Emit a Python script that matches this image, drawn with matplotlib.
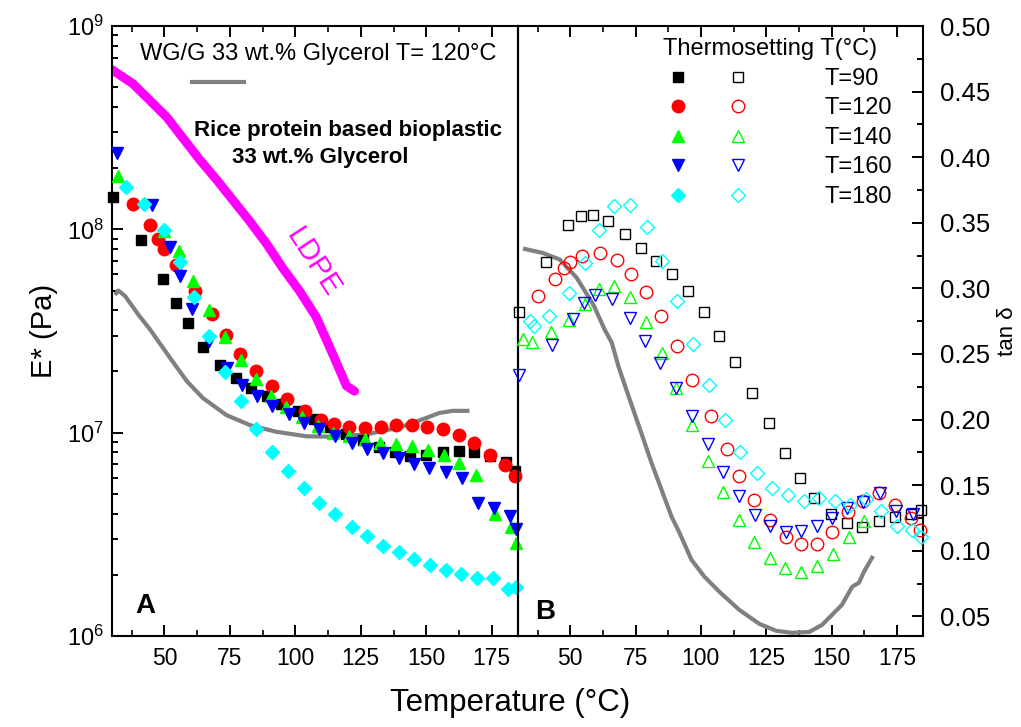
import matplotlib
matplotlib.use('Agg')
import matplotlib.pyplot as plt
from matplotlib import font_manager
from matplotlib.ticker import MultipleLocator, LogLocator, NullFormatter
from matplotlib.lines import Line2D
from matplotlib.legend_handler import HandlerTuple

plt.rcParams['font.family'] = ['Liberation Sans', 'DejaVu Sans']
plt.rcParams['mathtext.default'] = 'regular'
plt.rcParams['xtick.direction'] = 'in'
plt.rcParams['ytick.direction'] = 'in'

# narrow face for the x tick labels, if it is there
font_names = {f.name for f in font_manager.fontManager.ttflist}
if 'Liberation Sans Narrow' in font_names:
    tick_family, tick_size = 'Liberation Sans Narrow', 20
else:
    tick_family, tick_size = 'Liberation Sans', 16.5

# ---- panel A : E* (Pa) ----
ldpe_T = [30, 38, 44.5, 51, 57, 63.5, 70, 76, 82.5, 89, 95, 101.5, 108, 114.5, 119.5, 122.6]
ldpe_E = [6.1e8, 5.2e8, 4.3e8, 3.55e8, 2.82e8, 2.2e8, 1.75e8, 1.4e8, 1.1e8, 8.5e7, 6.5e7,
          5.0e7, 3.7e7, 2.4e7, 1.7e7, 1.6e7]

wgA_T = [31.6, 32.4, 35.0, 40.1, 44.5, 52.5, 58.6, 64.7, 73.7, 82.6, 92.7, 104.2, 114.3,
         127.0, 139.7, 149.9, 155.0, 160.0, 165.7]
wgA_E = [4.85e7, 5.0e7, 4.7e7, 3.8e7, 3.22e7, 2.30e7, 1.79e7, 1.48e7, 1.22e7, 1.09e7,
         1.01e7, 9.6e6, 9.55e6, 9.8e6, 1.06e7, 1.18e7, 1.25e7, 1.28e7, 1.28e7]

blackA_T = [30.5, 41.1, 49.6, 54.3, 59.1, 64.8, 71.1, 77.3, 83.0, 89.0, 94.7, 101.1, 107.2,
            113.2, 119.5, 125.9, 132.0, 138.0, 143.9, 150.0, 156.3, 162.3, 168.4, 174.4,
            180.5, 183.9]
blackA_E = [1.45e8, 8.9e7, 5.7e7, 4.35e7, 3.45e7, 2.65e7, 2.14e7, 1.86e7, 1.66e7, 1.51e7,
            1.39e7, 1.28e7, 1.17e7, 1.07e7, 9.8e6, 9.2e6, 8.5e6, 8.0e6, 7.7e6, 7.8e6,
            8.0e6, 8.1e6, 8.0e6, 7.7e6, 7.2e6, 6.5e6]

redA_T = [38.1, 44.5, 47.6, 49.9, 54.4, 61.6, 68.0, 73.7, 78.8, 85.1, 90.9, 96.8, 103.5,
          109.9, 114.7, 120.4, 126.7, 132.6, 138.5, 144.6, 150.2, 156.3, 162.3, 168.4,
          174.4, 180.2, 183.7]
redA_E = [1.34e8, 1.05e8, 9.0e7, 8.0e7, 6.65e7, 5.0e7, 3.82e7, 3.02e7, 2.45e7, 2.0e7,
          1.69e7, 1.47e7, 1.28e7, 1.16e7, 1.10e7, 1.07e7, 1.06e7, 1.07e7, 1.09e7, 1.09e7,
          1.07e7, 1.04e7, 9.7e6, 8.9e6, 7.8e6, 6.9e6, 6.1e6]

greenA_T = [32.2, 49.9, 55.5, 60.9, 66.9, 73.1, 79.1, 85.1, 90.7, 96.6, 102.5, 108.6, 114.4,
            120.5, 126.6, 132.5, 138.3, 144.6, 150.8, 156.7, 162.5, 168.8, 176.4, 182.4,
            184.4]
greenA_E = [1.83e8, 9.8e7, 7.8e7, 5.6e7, 4.0e7, 2.94e7, 2.28e7, 1.83e7, 1.52e7, 1.34e7,
            1.19e7, 1.08e7, 1.0e7, 9.6e6, 9.3e6, 8.9e6, 8.8e6, 8.6e6, 8.2e6, 7.8e6, 7.1e6,
            6.2e6, 4.0e6, 3.44e6, 2.88e6]

blueA_T = [31.8, 45.1, 52.1, 55.9, 60.6, 67.2, 73.8, 79.5, 85.4, 91.2, 97.5, 103.3, 109.2,
           115.3, 121.6, 127.4, 133.4, 139.4, 145.3, 151.2, 157.5, 163.6, 169.6, 175.9,
           182.1, 184.3]
blueA_E = [2.37e8, 1.32e8, 8.2e7, 5.9e7, 4.08e7, 2.81e7, 2.09e7, 1.71e7, 1.51e7, 1.35e7,
           1.23e7, 1.11e7, 1.04e7, 9.6e6, 8.9e6, 8.3e6, 7.9e6, 7.5e6, 7.05e6, 6.7e6,
           6.4e6, 5.96e6, 4.53e6, 4.25e6, 3.87e6, 3.34e6]

cyanA_T = [35.4, 42.1, 49.9, 56.1, 61.4, 67.1, 73.2, 79.3, 85.1, 91.1, 97.2, 103.3, 109.2,
           115.3, 121.5, 127.4, 133.4, 139.4, 145.4, 151.3, 157.4, 163.2, 169.3, 175.3,
           181.1, 184.3]
cyanA_E = [1.61e8, 1.34e8, 9.9e7, 6.9e7, 4.66e7, 3.0e7, 1.99e7, 1.43e7, 1.04e7, 8.07e6,
           6.48e6, 5.37e6, 4.53e6, 3.97e6, 3.42e6, 3.11e6, 2.77e6, 2.58e6, 2.38e6, 2.23e6,
           2.11e6, 2.02e6, 1.92e6, 1.92e6, 1.71e6, 1.75e6]

# ---- panel B : tan delta ----
wgB_T = [32.7, 39.5, 46.0, 52.5, 59.0, 63.2, 65.9, 68.5, 72.4, 77.7, 81.1, 88.8, 91.8, 96.4,
         101.4, 107.1, 114.7, 122.4, 128.9, 135.0, 141.5, 146.4, 150.2, 154.0, 157.9, 160.5,
         162.4, 165.5]
wgB_tan = [0.330, 0.327, 0.322, 0.308, 0.287, 0.2685, 0.2586, 0.2403, 0.2174, 0.1869, 0.167,
           0.1259, 0.1137, 0.0931, 0.0801, 0.0687, 0.0549, 0.0442, 0.0389, 0.0374, 0.0381,
           0.0435, 0.0511, 0.0588, 0.0725, 0.0756, 0.0839, 0.0946]

blackB_T = [30.5, 40.7, 49.3, 54.0, 58.7, 64.5, 70.9, 76.9, 82.9, 89.0, 95.1, 101.2, 107.1,
            113.1, 119.4, 125.9, 132.3, 138.0, 143.4, 149.7, 156.1, 161.8, 168.2, 174.3,
            180.6, 184.1]
blackB_tan = [0.282, 0.320, 0.348, 0.3555, 0.3557, 0.351, 0.3415, 0.331, 0.321, 0.311,
              0.298, 0.282, 0.264, 0.2436, 0.220, 0.197, 0.1744, 0.1554, 0.140, 0.128,
              0.121, 0.1177, 0.1223, 0.126, 0.128, 0.131]

redB_T = [37.8, 44.2, 47.5, 49.9, 54.5, 61.4, 68.0, 73.4, 79.0, 84.9, 90.8, 96.7, 103.7,
          109.9, 114.7, 120.5, 126.5, 132.6, 138.5, 144.6, 150.1, 156.2, 162.0, 168.2,
          174.3, 180.4, 183.9]
redB_tan = [0.294, 0.307, 0.3156, 0.320, 0.3244, 0.327, 0.322, 0.311, 0.297, 0.2786, 0.2558,
            0.2304, 0.2027, 0.1776, 0.1566, 0.1383, 0.1236, 0.1106, 0.105, 0.1055, 0.1146,
            0.1293, 0.1381, 0.1439, 0.135, 0.1251, 0.1159]

greenB_T = [32.1, 35.3, 42.7, 49.4, 55.5, 61.0, 66.8, 72.9, 78.9, 85.0, 90.6, 96.6, 102.6,
            108.4, 114.5, 120.5, 126.6, 132.3, 138.3, 144.5, 150.6, 156.7, 162.6]
greenB_tan = [0.2615, 0.2592, 0.2664, 0.2761, 0.2882, 0.2995, 0.3021, 0.2933, 0.2744,
              0.2504, 0.224, 0.196, 0.1686, 0.1444, 0.1236, 0.107, 0.0948, 0.0872, 0.0841,
              0.0885, 0.0974, 0.1108, 0.1226]

blueB_T = [30.4, 42.9, 51.2, 55.1, 59.5, 66.1, 72.8, 78.7, 84.4, 90.3, 96.6, 102.6, 108.4,
           114.6, 120.7, 126.5, 132.4, 138.5, 144.5, 150.3, 156.1, 162.1, 168.4, 174.8, 181.1]
blueB_tan = [0.2342, 0.2567, 0.2764, 0.2886, 0.295, 0.2919, 0.2774, 0.2596, 0.2431, 0.224,
             0.2029, 0.1815, 0.1603, 0.1416, 0.1274, 0.1185, 0.1139, 0.1147, 0.1185, 0.1246,
             0.1325, 0.1375, 0.1439, 0.1299, 0.1281]

cyanB_T = [34.7, 36.0, 41.9, 49.6, 55.8, 61.1, 66.9, 73.0, 79.2, 85.0, 91.0, 97.1, 103.0,
           109.3, 115.1, 121.3, 127.4, 133.4, 139.3, 145.3, 151.3, 157.1, 163.1, 169.0,
           175.2, 180.9, 184.1]
cyanB_tan = [0.2752, 0.271, 0.2792, 0.2965, 0.3194, 0.3445, 0.3628, 0.3636, 0.3468, 0.3209,
             0.2904, 0.2577, 0.2265, 0.1998, 0.1752, 0.1592, 0.1477, 0.1426, 0.1381, 0.1401,
             0.1381, 0.135, 0.1394, 0.1299, 0.119, 0.1159, 0.1104]

series_labels = ['T=90', 'T=120', 'T=140', 'T=160', 'T=180']
colors = ['black', 'red', '#00FF00', 'blue', 'cyan']
markers = ['s', 'o', '^', 'v', 'D']
msizes = [7.5, 9, 9, 9, 7.5]

dataA = [(blackA_T, blackA_E), (redA_T, redA_E), (greenA_T, greenA_E),
         (blueA_T, blueA_E), (cyanA_T, cyanA_E)]
dataB = [(blackB_T, blackB_tan), (redB_T, redB_tan), (greenB_T, greenB_tan),
         (blueB_T, blueB_tan), (cyanB_T, cyanB_tan)]

fig = plt.figure(figsize=(10.21, 7.27), dpi=100)
axA = fig.add_axes([0.1097, 0.1252, 0.3976, 0.839])
axB = fig.add_axes([0.5073, 0.1252, 0.3967, 0.839], facecolor='none')

# panel A
axA.plot(ldpe_T, ldpe_E, color='magenta', lw=6.5, solid_capstyle='round',
         solid_joinstyle='round', zorder=2)
wg_line, = axA.plot(wgA_T, wgA_E, color='gray', lw=3, solid_joinstyle='round', zorder=2)
filled = []
for (t, e), c, m, s in zip(dataA, colors, markers, msizes):
    h, = axA.plot(t, e, ls='none', marker=m, ms=s, mfc=c, mec=c, clip_on=False, zorder=3)
    filled.append(h)

axA.set_yscale('log')
axA.set_ylim(1e6, 1e9)
axA.set_xlim(30, 185)
axA.set_ylabel('E* (Pa)', fontsize=21, labelpad=6)

# panel B
axB.plot(wgB_T, wgB_tan, color='gray', lw=3, solid_joinstyle='round', zorder=2)
opened = []
for (t, d), c, m, s in zip(dataB, colors, markers, msizes):
    h, = axB.plot(t, d, ls='none', marker=m, ms=s, mfc='none', mec=c, mew=1.0,
                  clip_on=False, zorder=3)
    opened.append(h)
axB.set_xlim(30, 185)
axB.set_ylim(0.035, 0.50)
axB.yaxis.set_major_locator(MultipleLocator(0.05))
axB.yaxis.set_minor_locator(MultipleLocator(0.025))
axB.yaxis.set_major_formatter(plt.FormatStrFormatter('%.2f'))
axB.yaxis.set_label_position('right')
axB.set_ylabel('tan δ', fontsize=16, labelpad=5, family=[tick_family, 'DejaVu Sans'])

for ax in (axA, axB):
    ax.xaxis.set_major_locator(MultipleLocator(25))
    ax.xaxis.set_minor_locator(MultipleLocator(12.5))
    for sp in ax.spines.values():
        sp.set_linewidth(1.5)
    ax.tick_params(axis='x', which='both', top=True, bottom=True, width=1.4,
                   labelsize=tick_size, labelfontfamily=tick_family, pad=8)
    ax.tick_params(which='major', length=8)
    ax.tick_params(which='minor', length=4.5, width=1.2)

axA.yaxis.set_major_locator(LogLocator(base=10, numticks=10))
axA.yaxis.set_minor_locator(LogLocator(base=10, subs=range(2, 10), numticks=10))
axA.yaxis.set_minor_formatter(NullFormatter())
axA.tick_params(axis='y', which='both', left=True, right=False, width=1.4, labelsize=17, pad=6)
axB.tick_params(axis='y', which='both', left=False, right=True, labelleft=False,
                labelright=True, width=1.4, labelsize=18.5, pad=12)

fig.text(0.5, 0.033, 'Temperature (°C)', fontsize=22.5, ha='center', va='center')

# annotations
axA.text(0.5825, 0.8295, 'Rice protein based bioplastic', transform=axA.transAxes,
         fontsize=16, fontweight='bold', ha='center', va='center')
axA.text(0.513, 0.785, '33 wt.% Glycerol', transform=axA.transAxes,
         fontsize=16, fontweight='bold', ha='center', va='center')
axA.text(0.495, 0.613, 'LDPE', transform=axA.transAxes, color='magenta', fontsize=21,
         rotation=-57, ha='center', va='center')
axA.text(0.081, 0.049, 'A', transform=axA.transAxes, fontsize=20, fontweight='bold',
         ha='center', va='center')
axB.text(0.067, 0.039, 'B', transform=axB.transAxes, fontsize=20, fontweight='bold',
         ha='center', va='center')

axA.legend([wg_line], [''], title='WG/G 33 wt.% Glycerol T= 120°C',
           title_fontsize=17, fontsize=14, alignment='left', markerfirst=False,
           handletextpad=2.67, handlelength=2.67, frameon=False,
           loc='upper left', bbox_to_anchor=(0.069, 0.972), borderpad=0,
           borderaxespad=0)

blank = Line2D([], [], ls='none')
pairs = [(f, o, blank) for f, o in zip(filled, opened)]
axB.legend(pairs, series_labels, handler_map={tuple: HandlerTuple(ndivide=3, pad=0)},
           title='Thermosetting T(°C)', title_fontsize=17, fontsize=17,
           handlelength=7.54, handletextpad=-0.1, labelspacing=0.32, frameon=False,
           loc='upper left', bbox_to_anchor=(0.3225, 0.98), borderpad=0, borderaxespad=0)

fig.savefig('out.png', dpi=100)
